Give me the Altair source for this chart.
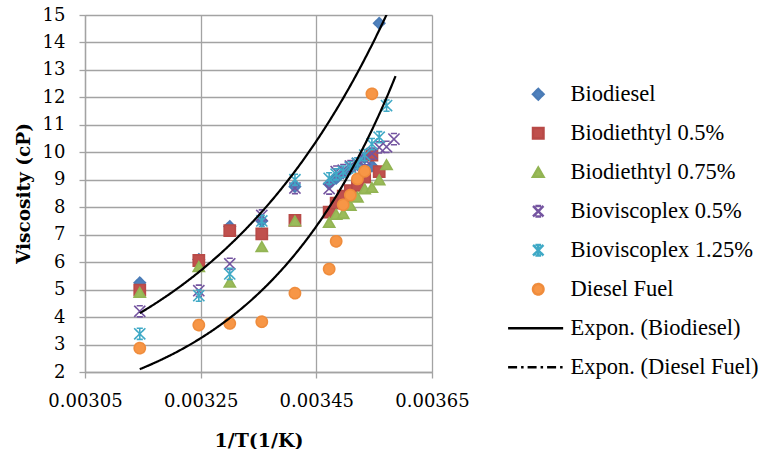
import altair as alt
import pandas as pd

# 1/T values (1/K) of the measurement temperatures 318 K ... 279 K
X_COLS = [0.0031447, 0.0032468, 0.0033003, 0.0033557, 0.0034130, 0.0034722,
          0.0034843, 0.0034965, 0.0035088, 0.0035211, 0.0035336, 0.0035461,
          0.0035587, 0.0035714, 0.0035842]

SERIES = ["Biodiesel", "Biodiethtyl 0.5%", "Biodiethtyl 0.75%",
          "Bioviscoplex 0.5%", "Bioviscoplex 1.25%", "Diesel Fuel"]
TRENDS = ["Expon. (Biodiesel)", "Expon. (Diesel Fuel)"]

BIODIESEL = [5.25, 6.1, 7.3, 7.5, 8.75, 8.85, 9.05, 9.25, 9.4, 9.55, 9.8, 9.5, 14.7]
BIODIETHTYL_05 = [4.98, 6.06, 7.15, 7.03, 7.52, 7.82, 8.15, 8.4, 8.6, 8.8, 9.1, 9.9, 9.3]
BIODIETHTYL_075 = [4.9, 5.84, 5.27, 6.57, 7.5, 7.45, 7.74, 7.77, 8.07, 8.37, 8.67, 8.72, 9.0, 9.55]
BIOVISCOPLEX_05 = [4.21, 4.96, 5.94, 7.7, 8.7, 8.68, 9.3, 9.35, 9.5, 9.6, 9.75, 9.95, 10.18, 10.2, 10.48]
BIOVISCOPLEX_125 = [3.39, 4.78, 5.57, 7.5, 9.0, 9.05, 9.2, 9.3, 9.45, 9.6, 9.9, 10.3, 10.55, 11.7]
DIESEL = [2.87, 3.71, 3.77, 3.83, 4.87, 5.75, 6.76, 8.09, 8.44, 9.03, 9.31, 12.13]

# Exponential trendlines y = a * exp(b * x), as shown in the chart
BIO_TREND = {"a": 3.14e-4, "b": 3017, "x0": 0.0031447, "x1": 0.003597}
DIESEL_TREND = {"a": 5.63e-6, "b": 4080, "x0": 0.0031447, "x1": 0.003587}

X_TICKS = [0.00305, 0.00325, 0.00345, 0.00365]
Y_TICKS = [2, 3, 4, 5, 6, 7, 8, 9, 10, 11, 12, 13, 14, 15]

rows = []
for name, vals in zip(SERIES, [BIODIESEL, BIODIETHTYL_05, BIODIETHTYL_075,
                               BIOVISCOPLEX_05, BIOVISCOPLEX_125, DIESEL]):
    for x, y in zip(X_COLS, vals):
        rows.append({"series": name, "x": x, "y": y})
df = pd.DataFrame(rows)

DOMAIN = SERIES + TRENDS
FILLS = ["#4f81bd", "#c0504d", "#9bbb59", "transparent", "transparent",
         "#f79646", "transparent", "transparent"]
STROKES = ["#4a7bb6", "#b84a47", "#92b453", "#7454a0", "#3fa9c6",
           "#ef8c3c", "#000000", "#000000"]
X_PATH = "M-1,-1L1,1M1,-1L-1,1M-0.55,-1L0.55,-1M-0.55,1L0.55,1"
STAR_PATH = "M-1,-1L1,1M1,-1L-1,1M0,-1.1L0,1.1M-0.55,-1L0.55,-1M-0.55,1L0.55,1"
LINE_PATH = "M-5.75,0L4.75,0"
SHAPES = ["diamond", "square", "triangle-up", X_PATH, STAR_PATH, "circle",
          LINE_PATH, LINE_PATH]
DASHES = [[1, 0]] * 7 + [[9, 4, 2.5, 4]]

GRID = "#a3a3a3"

legend = alt.Legend(title=None, orient="none", legendX=442, legendY=68,
                    symbolSize=110, symbolStrokeWidth=2.5,
                    labelFont="Liberation Serif", labelFontSize=22.5,
                    labelColor="black", labelOffset=21, rowPadding=16,
                    labelLimit=400, padding=0, symbolOpacity=1)

xscale = alt.Scale(domain=[0.00305, 0.00365], nice=False, zero=False)
yscale = alt.Scale(domain=[2, 15], nice=False, zero=False)

xaxis = alt.Axis(values=X_TICKS, format=".5f", title="1/T(1/K)", grid=True,
                 gridColor=GRID, gridWidth=1.3, domainColor=GRID, domainWidth=1.3,
                 tickColor=GRID, tickWidth=1.3, tickSize=6, labelFont="DejaVu Serif",
                 labelFontSize=18, labelColor="black", labelPadding=14,
                 labelFlush=False, labelOverlap=False,
                 titleFont="DejaVu Serif", titleFontWeight="bold", titleFontSize=19,
                 titleColor="black", titleY=68, titleBaseline="middle")
yaxis = alt.Axis(values=Y_TICKS, tickCount=14, format="d", title="Viscosity (cP)", grid=True,
                 gridColor=GRID, gridWidth=1.3, domainColor=GRID, domainWidth=1.3,
                 tickColor=GRID, tickWidth=1.3, tickSize=6, labelFont="DejaVu Serif",
                 labelFontSize=18, labelColor="black", labelPadding=14,
                 labelFlush=False, labelOverlap=False,
                 titleFont="DejaVu Serif", titleFontWeight="bold", titleFontSize=18.5,
                 titleColor="black", titleX=-62, titleY=178, titleAngle=270,
                 titleAlign="center", titleBaseline="middle")

points = alt.Chart(df).mark_point(size=125, opacity=1, filled=False, strokeWidth=1.6).encode(
    x=alt.X("x:Q", scale=xscale, axis=xaxis),
    y=alt.Y("y:Q", scale=yscale, axis=yaxis),
    fill=alt.Fill("series:N", scale=alt.Scale(domain=DOMAIN, range=FILLS), legend=legend),
    stroke=alt.Stroke("series:N", scale=alt.Scale(domain=DOMAIN, range=STROKES), legend=legend),
    shape=alt.Shape("series:N", scale=alt.Scale(domain=DOMAIN, range=SHAPES), legend=legend),
    strokeDash=alt.StrokeDash("series:N", scale=alt.Scale(domain=DOMAIN, range=DASHES), legend=legend),
)


def trend(p):
    step = (p["x1"] - p["x0"]) / 300
    return alt.Chart(alt.sequence(p["x0"], p["x1"] + step, step, as_="x")).transform_calculate(
        y=f"{p['a']} * exp({p['b']} * datum.x)"
    ).mark_line(color="black", strokeWidth=2.2, clip=True).encode(
        x=alt.X("x:Q", scale=xscale, axis=xaxis),
        y=alt.Y("y:Q", scale=yscale, axis=yaxis),
    )


chart = alt.layer(points, trend(BIO_TREND), trend(DIESEL_TREND)).properties(
    width=347, height=357,
    autosize=alt.AutoSizeParams(type="none"),
    padding={"left": 85, "top": 15, "right": 330, "bottom": 77},
).configure_view(stroke=None).configure(background="white")

chart.save("out.html", embed_options={"renderer": "svg", "actions": False})
